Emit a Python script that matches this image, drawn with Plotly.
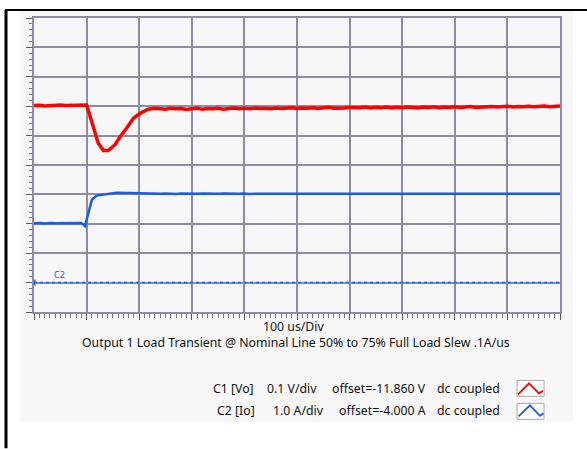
import plotly.graph_objects as go

# ---- data (time in us, amplitude in screen divisions, 0 = bottom of screen) ----
red_t = [0, 10, 20, 30, 40, 50, 60, 70, 80, 90, 100,
         103, 110, 116, 122, 132, 141, 154, 164, 176, 189, 202, 217, 230,
         240, 250, 260, 270, 280, 290, 300, 310, 320, 330, 340, 350, 360, 370, 380, 390,
         400, 410, 420, 430, 440, 450, 460, 470, 480, 490, 500, 510, 520, 530, 540,
         550, 560, 570, 580, 590, 600, 610, 620, 630, 640, 650, 660, 670, 680, 690,
         700, 710, 720, 730, 740, 750, 760, 770, 780, 790, 800, 810, 820, 830, 840,
         850, 860, 870, 880, 890, 900, 910, 920, 930, 940, 950, 960, 970, 980, 990, 1000]
red_v = [7.02, 7.03, 7.01, 7.03, 7.02, 7.04, 7.02, 7.03, 7.04, 7.03, 7.04,
         6.88, 6.43, 6.03, 5.75, 5.49, 5.49, 5.69, 5.97, 6.25, 6.59, 6.76, 6.90, 6.93,
         6.92, 6.90, 6.93, 6.91, 6.92, 6.89, 6.91, 6.93, 6.90, 6.92, 6.91, 6.93, 6.90, 6.92, 6.94, 6.91,
         6.93, 6.91, 6.94, 6.92, 6.93, 6.91, 6.94, 6.92, 6.93, 6.95, 6.92, 6.94, 6.93, 6.95, 6.92,
         6.94, 6.96, 6.93, 6.95, 6.94, 6.96, 6.94, 6.95, 6.97, 6.94, 6.96, 6.95, 6.97, 6.94, 6.96,
         6.95, 6.97, 6.96, 6.94, 6.97, 6.96, 6.98, 6.95, 6.97, 6.96, 6.98, 6.96, 6.97, 6.99, 6.96,
         6.98, 6.97, 6.99, 6.97, 6.98, 7.00, 6.97, 6.99, 6.98, 7.00, 6.98, 6.99, 7.01, 6.98, 7.00, 7.01]

blue_t = [0, 10, 20, 30, 40, 50, 60, 70, 80, 90, 97,
          103, 110, 119, 138, 157, 182, 200,
          210, 220, 230, 240, 250, 260, 270, 280, 290, 300, 310, 320, 330, 340, 350, 360, 370, 380, 390,
          400, 410, 420, 430, 440, 450, 460, 470, 480, 490, 500, 510, 520, 530, 540,
          550, 560, 570, 580, 590, 600, 610, 620, 630, 640, 650, 660, 670, 680, 690,
          700, 710, 720, 730, 740, 750, 760, 770, 780, 790, 800, 810, 820, 830, 840,
          850, 860, 870, 880, 890, 900, 910, 920, 930, 940, 950, 960, 970, 980, 990, 1000]
blue_v = [3.02, 3.03, 3.01, 3.03, 3.02, 3.02, 3.03, 3.01, 3.02, 3.03, 2.92,
          3.38, 3.82, 3.96, 4.01, 4.06, 4.05, 4.04,
          4.02, 4.03, 4.01, 4.02, 4.03, 4.02, 4.01, 4.03, 4.02, 4.01, 4.02, 4.03, 4.02, 4.01, 4.02, 4.03, 4.02, 4.01, 4.02,
          4.03, 4.01, 4.02, 4.02, 4.03, 4.01, 4.02, 4.03, 4.02, 4.01, 4.02, 4.03, 4.02, 4.01, 4.02,
          4.03, 4.02, 4.01, 4.02, 4.03, 4.02, 4.01, 4.02, 4.03, 4.02, 4.02, 4.01, 4.03, 4.02, 4.01,
          4.02, 4.03, 4.02, 4.01, 4.02, 4.03, 4.02, 4.01, 4.02, 4.02, 4.03, 4.01, 4.02, 4.03, 4.02,
          4.01, 4.02, 4.03, 4.02, 4.02, 4.01, 4.03, 4.02, 4.01, 4.02, 4.03, 4.02, 4.01, 4.02, 4.02, 4.02]

c2_ground_t = [0, 1000]
c2_ground_v = [1.0, 1.0]

x_range = [0, 1000]   # 10 div x 100 us
y_range = [0, 10]     # 10 vertical divisions

title_txt = "Output 1 Load Transient @ Nominal Line 50% to 75% Full Load Slew .1A/us"
xdiv_txt = "100 us/Div"
legend_rows = [
    ["C1 [Vo]", "0.1 V/div", "offset=-11.860 V", "dc coupled"],
    ["C2 [Io]", "1.0 A/div", "offset=-4.000 A", "dc coupled"],
]

RED = "#ff0000"
BLUE = "#1a5ce6"
GRID = "#8c8ca4"
FONT = "Noto Sans"

W, H = 587, 449
L, R, T, B = 34, 560, 18, 312.5


def px(x):
    return (x - L) / (R - L)


def py(y):
    return (B - y) / (B - T)


fig = go.Figure()
fig.add_trace(go.Scatter(x=red_t, y=red_v, mode="lines",
                         line=dict(color=RED, width=3.5), hoverinfo="skip"))
fig.add_trace(go.Scatter(x=blue_t, y=blue_v, mode="lines",
                         line=dict(color=BLUE, width=2.5), hoverinfo="skip"))
fig.add_trace(go.Scatter(x=c2_ground_t, y=c2_ground_v, mode="lines",
                         line=dict(color=BLUE, width=1.5, dash="dot"), hoverinfo="skip"))
fig.add_trace(go.Scatter(x=c2_ground_t[:1], y=c2_ground_v[:1], mode="markers",
                         marker=dict(symbol="triangle-left", size=6, color=BLUE),
                         hoverinfo="skip", cliponaxis=False))

shapes = []
# outer frame / panel
shapes.append(dict(type="rect", xref="paper", yref="paper", x0=px(20), x1=px(573), y0=py(423), y1=py(10),
                   fillcolor="#f7f7f7", line=dict(width=0), layer="below"))
shapes.append(dict(type="line", xref="paper", yref="paper", x0=px(5), x1=px(587), y0=py(10), y1=py(10),
                   line=dict(color="black", width=2)))
shapes.append(dict(type="line", xref="paper", yref="paper", x0=px(6), x1=px(6), y0=py(10), y1=py(449),
                   line=dict(color="black", width=3)))

# legend icons
icons = [
    (381, 397, RED, [(518, 395), (529, 384), (539, 394), (543, 391.5)]),
    (404, 420, BLUE, [(518.5, 417), (530, 406), (540, 416.5), (543.5, 414)]),
]
for y0, y1, col, pts in icons:
    shapes.append(dict(type="rect", xref="paper", yref="paper", x0=px(517), x1=px(544), y0=py(y1), y1=py(y0),
                       fillcolor="white", line=dict(color="#a8a8a8", width=1)))
    path = "M " + " L ".join(f"{px(a):.5f},{py(b):.5f}" for a, b in pts)
    shapes.append(dict(type="path", xref="paper", yref="paper", path=path,
                       line=dict(color=col, width=1.8)))

ann = []
ann.append(dict(text=xdiv_txt, x=px(294), y=py(327), xref="paper", yref="paper", showarrow=False,
                font=dict(family=FONT, size=12.3, color="#111"), xanchor="center", yanchor="middle"))
ann.append(dict(text=title_txt, x=px(296), y=py(343), xref="paper", yref="paper", showarrow=False,
                font=dict(family=FONT, size=12.3, color="#111"), xanchor="center", yanchor="middle"))
ann.append(dict(text="C2", x=px(59), y=py(275), xref="paper", yref="paper", showarrow=False,
                font=dict(family=FONT, size=9, color=BLUE), xanchor="center", yanchor="middle"))

col_right = [[256, 319, 428, 502], [257, 326, 428, 502]]
row_y = [389, 411]
for r, row in enumerate(legend_rows):
    for c, txt in enumerate(row):
        ann.append(dict(text=txt, x=px(col_right[r][c]), y=py(row_y[r]), xref="paper", yref="paper",
                        showarrow=False, font=dict(family=FONT, size=12.3, color="#111"),
                        xanchor="right", yanchor="middle"))

axis_common = dict(showgrid=True, gridcolor=GRID, gridwidth=1.5, zeroline=False,
                   showline=True, linecolor=GRID, linewidth=1.5, mirror=True,
                   showticklabels=False, ticks="outside", tickcolor="#555", ticklen=6, tickwidth=1)

fig.update_layout(
    width=W, height=H,
    margin=dict(l=L, r=W - R, t=T, b=H - B, pad=0),
    paper_bgcolor="white", plot_bgcolor="#fafafa",
    showlegend=False,
    xaxis=dict(range=x_range, dtick=100, tick0=0,
               minor=dict(dtick=10, ticks="outside", ticklen=4, tickcolor="#777", showgrid=False),
               **axis_common),
    yaxis=dict(range=y_range, dtick=1, tick0=0,
               minor=dict(dtick=0.2, ticks="outside", ticklen=3, tickcolor="#777", showgrid=False),
               **axis_common),
    shapes=shapes, annotations=ann,
)

fig.write_html("out.html", config={"displayModeBar": False},
               post_script="document.body.style.margin='0px';document.body.style.overflow='hidden';")
